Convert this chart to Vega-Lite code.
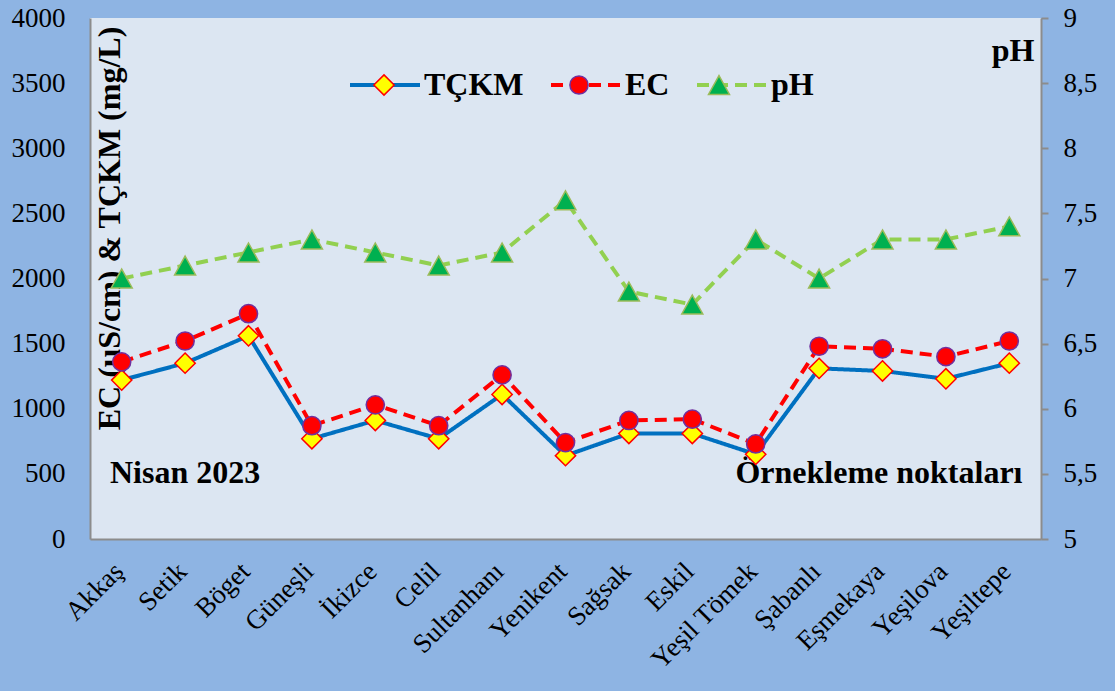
{
  "$schema": "https://vega.github.io/schema/vega-lite/v6.json",
  "width": 951,
  "height": 521,
  "autosize": "none",
  "padding": {"left": 90, "top": 18, "right": 74, "bottom": 152},
  "background": "#8EB4E3",
  "config": {
    "view": {"fill": "#DCE6F2", "stroke": null},
    "font": "Liberation Serif",
    "axis": {
      "grid": false,
      "labelFont": "Liberation Serif",
      "labelFontSize": 27,
      "labelColor": "#000000",
      "titleFont": "Liberation Serif",
      "titleFontSize": 32,
      "titleFontWeight": "bold",
      "titleColor": "#000000",
      "domainColor": "#8C8C8C",
      "domainWidth": 2,
      "tickColor": "#8C8C8C",
      "tickWidth": 2
    },
    "legend": {
      "labelFont": "Liberation Serif",
      "labelFontSize": 32,
      "labelFontWeight": "bold",
      "labelColor": "#000000",
      "symbolOpacity": 1
    }
  },
  "title": {
    "text": "Nisan 2023",
    "orient": "top",
    "anchor": "start",
    "frame": "group",
    "offset": 0,
    "dx": 20,
    "dy": 511,
    "baseline": "alphabetic",
    "font": "Liberation Serif",
    "fontSize": 32,
    "fontWeight": "bold",
    "color": "#000000"
  },
  "data": {
    "values": [
      {"Istasyon": "Akkaş", "TÇKM": 1220, "EC": 1360, "pH": 7.0},
      {"Istasyon": "Setik", "TÇKM": 1350, "EC": 1520, "pH": 7.1},
      {"Istasyon": "Böget", "TÇKM": 1560, "EC": 1730, "pH": 7.2},
      {"Istasyon": "Güneşli", "TÇKM": 770, "EC": 870, "pH": 7.3},
      {"Istasyon": "İkizce", "TÇKM": 910, "EC": 1030, "pH": 7.2},
      {"Istasyon": "Celil", "TÇKM": 770, "EC": 870, "pH": 7.1},
      {"Istasyon": "Sultanhanı", "TÇKM": 1110, "EC": 1260, "pH": 7.2},
      {"Istasyon": "Yenikent", "TÇKM": 640, "EC": 740, "pH": 7.6},
      {"Istasyon": "Sağsak", "TÇKM": 810, "EC": 910, "pH": 6.9},
      {"Istasyon": "Eskil", "TÇKM": 810, "EC": 920, "pH": 6.8},
      {"Istasyon": "Yeşil Tömek", "TÇKM": 650, "EC": 730, "pH": 7.3},
      {"Istasyon": "Şabanlı", "TÇKM": 1310, "EC": 1480, "pH": 7.0},
      {"Istasyon": "Eşmekaya", "TÇKM": 1290, "EC": 1460, "pH": 7.3},
      {"Istasyon": "Yeşilova", "TÇKM": 1230, "EC": 1400, "pH": 7.3},
      {"Istasyon": "Yeşiltepe", "TÇKM": 1350, "EC": 1520, "pH": 7.4}
    ]
  },
  "encoding": {
    "x": {
      "field": "Istasyon",
      "type": "nominal",
      "sort": null,
      "axis": {
        "title": "Örnekleme noktaları",
        "titleX": 932,
        "titleY": -57,
        "titleAlign": "right",
        "titleBaseline": "alphabetic",
        "titleAnchor": null,
        "labelAngle": -45,
        "labelAlign": "right",
        "labelBaseline": "middle",
        "labelPadding": 28,
        "labelOffset": -3,
        "ticks": false
      }
    }
  },
  "layer": [
    {
      "layer": [
        {
          "transform": [{"fold": ["TÇKM", "EC"], "as": ["Seri", "Deger"]}],
          "mark": {"type": "line", "strokeWidth": 4},
          "encoding": {
            "y": {
              "field": "Deger",
              "type": "quantitative",
              "scale": {"domain": [0, 4000], "nice": false, "zero": true},
              "axis": {
                "orient": "left",
                "values": [0, 500, 1000, 1500, 2000, 2500, 3000, 3500, 4000],
                "format": "d",
                "ticks": false,
                "labelPadding": 25,
                "title": "EC (µS/cm) & TÇKM (mg/L)",
                "titleAngle": -90,
                "titleX": 29,
                "titleY": 210,
                "titleAlign": "center",
                "titleBaseline": "alphabetic"
              }
            },
            "color": {
              "field": "Seri",
              "type": "nominal",
              "scale": {"domain": ["TÇKM", "EC", "pH"], "range": ["#0070C0", "#FF0000", "#92D050"]},
              "legend": {
                "orient": "none",
                "legendX": 258,
                "legendY": 30,
                "direction": "horizontal",
                "title": null,
                "symbolType": "stroke",
                "symbolSize": 4900,
                "symbolStrokeWidth": 4,
                "labelOffset": 2,
                "columnPadding": 19
              }
            },
            "strokeDash": {
              "field": "Seri",
              "type": "nominal",
              "scale": {"domain": ["TÇKM", "EC", "pH"], "range": [[1, 0], [12, 7], [12, 7]]},
              "legend": {
                "orient": "none",
                "legendX": 258,
                "legendY": 30,
                "direction": "horizontal",
                "title": null,
                "symbolType": "stroke",
                "symbolSize": 4900,
                "symbolStrokeWidth": 4,
                "labelOffset": 2,
                "columnPadding": 19
              }
            }
          }
        },
        {
          "transform": [
            {"fold": ["TÇKM", "EC"], "as": ["Isaret", "Deger"]},
            {"calculate": "indexof(['TÇKM', 'EC', 'pH'], datum.Isaret)", "as": "Sira"}
          ],
          "mark": {"type": "point", "filled": true, "opacity": 1, "size": 4900, "strokeWidth": 1.5},
          "encoding": {
            "y": {"field": "Deger", "type": "quantitative"},
            "shape": {
              "field": "Isaret",
              "type": "nominal",
              "sort": {"field": "Sira", "op": "min"},
              "scale": {"range": [
                "M0,-0.29L0.29,0L0,0.29L-0.29,0Z",
                "M0.26,0A0.26,0.26,0,1,1,-0.26,0A0.26,0.26,0,1,1,0.26,0Z",
                "M0,-0.27L0.3,0.27L-0.3,0.27Z"
              ]},
              "legend": {
                "orient": "none",
                "legendX": 258,
                "legendY": 31,
                "direction": "horizontal",
                "title": null,
                "symbolSize": 4900,
                "symbolStrokeWidth": 1.5,
                "labelOpacity": 0,
                "labelOffset": 4,
                "columnPadding": 19
              }
            },
            "fill": {
              "field": "Isaret",
              "type": "nominal",
              "sort": {"field": "Sira", "op": "min"},
              "scale": {"range": ["#FFFF00", "#FF0000", "#00B050"]},
              "legend": {
                "orient": "none",
                "legendX": 258,
                "legendY": 31,
                "direction": "horizontal",
                "title": null,
                "symbolSize": 4900,
                "symbolStrokeWidth": 1.5,
                "labelOpacity": 0,
                "labelOffset": 4,
                "columnPadding": 19
              }
            },
            "stroke": {
              "field": "Isaret",
              "type": "nominal",
              "sort": {"field": "Sira", "op": "min"},
              "scale": {"range": ["#FF0000", "#7030A0", "#9BBB59"]},
              "legend": {
                "orient": "none",
                "legendX": 258,
                "legendY": 31,
                "direction": "horizontal",
                "title": null,
                "symbolSize": 4900,
                "symbolStrokeWidth": 1.5,
                "labelOpacity": 0,
                "labelOffset": 4,
                "columnPadding": 19
              }
            }
          }
        }
      ]
    },
    {
      "layer": [
        {
          "transform": [{"fold": ["pH"], "as": ["Seri", "Deger"]}],
          "mark": {"type": "line", "strokeWidth": 4},
          "encoding": {
            "y": {
              "field": "Deger",
              "type": "quantitative",
              "scale": {"domain": [5, 9], "nice": false, "zero": false},
              "axis": {
                "orient": "right",
                "values": [5, 5.5, 6, 6.5, 7, 7.5, 8, 8.5, 9],
                "format": "~g",
                "labelExpr": "replace(datum.label, '.', ',')",
                "tickSize": 7,
                "labelPadding": 15,
                "labelAlign": "left",
                "title": "pH",
                "titleAngle": 0,
                "titleX": -7,
                "titleY": 42,
                "titleAlign": "right",
                "titleBaseline": "alphabetic"
              }
            },
            "color": {"field": "Seri", "type": "nominal"},
            "strokeDash": {"field": "Seri", "type": "nominal"}
          }
        },
        {
          "transform": [
            {"fold": ["pH"], "as": ["Isaret", "Deger"]},
            {"calculate": "indexof(['TÇKM', 'EC', 'pH'], datum.Isaret)", "as": "Sira"}
          ],
          "mark": {"type": "point", "filled": true, "opacity": 1, "size": 4900, "strokeWidth": 1.5},
          "encoding": {
            "y": {"field": "Deger", "type": "quantitative"},
            "shape": {"field": "Isaret", "type": "nominal", "sort": {"field": "Sira", "op": "min"}},
            "fill": {"field": "Isaret", "type": "nominal", "sort": {"field": "Sira", "op": "min"}},
            "stroke": {"field": "Isaret", "type": "nominal", "sort": {"field": "Sira", "op": "min"}}
          }
        }
      ]
    }
  ],
  "resolve": {"scale": {"y": "independent"}}
}
